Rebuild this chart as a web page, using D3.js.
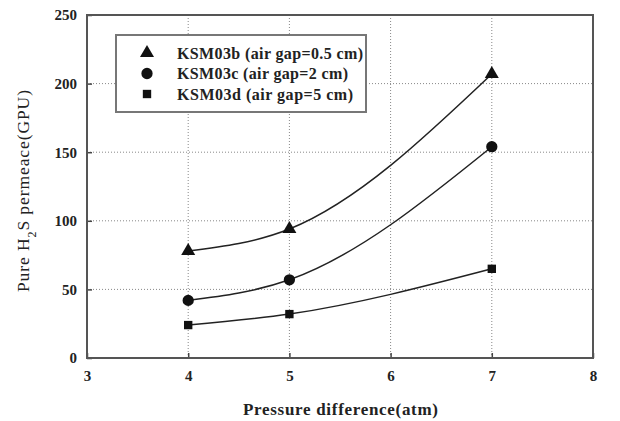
<!DOCTYPE html>
<html>
<head>
<meta charset="utf-8">
<script src="https://cdn.jsdelivr.net/npm/d3@7"></script>
<style>
body { margin: 0; background: #fff; }
text { font-family: "Liberation Serif", "Times New Roman", serif; fill: #222; }
</style>
</head>
<body>
<div id="chart"></div>
<script>
var width = 620, height = 421;
var margin = {left: 87, right: 27, top: 15, bottom: 63};

// data
var pressure = [4, 5, 7];
var ksm03b = [78, 94, 207];
var ksm03c = [42, 57, 154];
var ksm03d = [24, 32, 65];
var seriesNames = ["KSM03b (air gap=0.5 cm)", "KSM03c (air gap=2 cm)", "KSM03d (air gap=5 cm)"];
var xTicks = [3, 4, 5, 6, 7, 8];
var yTicks = [0, 50, 100, 150, 200, 250];

var series = [
    {name: seriesNames[0], values: ksm03b, symbol: d3.symbolTriangle, size: 85, len: 186},
    {name: seriesNames[1], values: ksm03c, symbol: d3.symbolCircle, size: 100, len: 171},
    {name: seriesNames[2], values: ksm03d, symbol: d3.symbolSquare, size: 70, len: 176}
];

var svg = d3.select("#chart").append("svg")
    .attr("width", width)
    .attr("height", height);

var w = width - margin.left - margin.right,
    h = height - margin.top - margin.bottom;

var g = svg.append("g")
    .attr("transform", "translate(" + margin.left + "," + margin.top + ")");

var xScale = d3.scaleLinear().domain([3, 8]).range([0, w]),
    yScale = d3.scaleLinear().domain([0, 250]).range([h, 0]);

// grid
g.selectAll(".vgrid")
    .data(xTicks.slice(1, -1))
    .enter().append("line")
    .attr("x1", d => xScale(d)).attr("x2", d => xScale(d))
    .attr("y1", 0).attr("y2", h)
    .attr("stroke", "#888")
    .attr("stroke-dasharray", "1,2");

g.selectAll(".hgrid")
    .data(yTicks.slice(1, -1))
    .enter().append("line")
    .attr("y1", d => yScale(d)).attr("y2", d => yScale(d))
    .attr("x1", 0).attr("x2", w)
    .attr("stroke", "#888")
    .attr("stroke-dasharray", "1,2");

// axes
var xAxis = g.append("g")
    .attr("transform", "translate(0," + h + ")")
    .call(d3.axisBottom(xScale).tickValues(xTicks).tickFormat(d3.format("d"))
        .tickSizeInner(-5).tickSizeOuter(0).tickPadding(12));

var yAxis = g.append("g")
    .call(d3.axisLeft(yScale).tickValues(yTicks).tickFormat(d3.format("d"))
        .tickSizeInner(-5).tickSizeOuter(0).tickPadding(10));

[xAxis, yAxis].forEach(function(a){
    a.select(".domain").remove();
    a.selectAll("line").attr("stroke", "#444").attr("stroke-width", 1.5);
    a.selectAll("text")
        .attr("font-family", "'Liberation Serif', serif")
        .attr("font-size", 15)
        .attr("font-weight", "bold")
        .attr("fill", "#333");
});

// frame
g.append("rect")
    .attr("x", 0).attr("y", 0)
    .attr("width", w).attr("height", h)
    .attr("fill", "none")
    .attr("stroke", "#555")
    .attr("stroke-width", 2);

// curves
var line = d3.line()
    .x((d, i) => xScale(pressure[i]))
    .y(d => yScale(d))
    .curve(d3.curveMonotoneX);

series.forEach(function(s){
    g.append("path")
        .attr("d", line(s.values))
        .attr("fill", "none")
        .attr("stroke", "#222")
        .attr("stroke-width", 1.5);

    g.selectAll(null)
        .data(s.values)
        .enter().append("path")
        .attr("transform", (d, i) => "translate(" + xScale(pressure[i]) + "," + yScale(d) + ")")
        .attr("d", d3.symbol().type(s.symbol).size(s.size))
        .attr("fill", "#111");
});

// legend
var legend = svg.append("g")
    .attr("transform", "translate(116,35)");

legend.append("rect")
    .attr("width", 250).attr("height", 77)
    .attr("fill", "#fff")
    .attr("stroke", "#777")
    .attr("stroke-width", 2);

series.forEach(function(s, i){
    var row = legend.append("g")
        .attr("transform", "translate(0," + (18 + i * 20.5) + ")");
    row.append("path")
        .attr("transform", "translate(31,0)")
        .attr("d", d3.symbol().type(s.symbol).size(s.size))
        .attr("fill", "#111");
    row.append("text")
        .attr("x", 61)
        .attr("dy", "0.35em")
        .attr("font-size", 16)
        .attr("font-weight", "bold")
        .attr("fill", "#333")
        .attr("textLength", s.len)
        .text(s.name);
});

// axis titles
svg.append("text")
    .attr("x", 243)
    .attr("y", 415)
    .attr("font-size", 17)
    .attr("font-weight", "bold")
    .attr("fill", "#333")
    .attr("textLength", 195)
    .text("Pressure difference(atm)");

svg.append("text")
    .attr("transform", "translate(29,292) rotate(-90)")
    .attr("font-size", 17.5)
    .attr("fill", "#333")
    .attr("textLength", 202)
    .html('Pure H<tspan baseline-shift="sub" font-size="12px">2</tspan>S permeace(GPU)');
</script>
</body>
</html>
